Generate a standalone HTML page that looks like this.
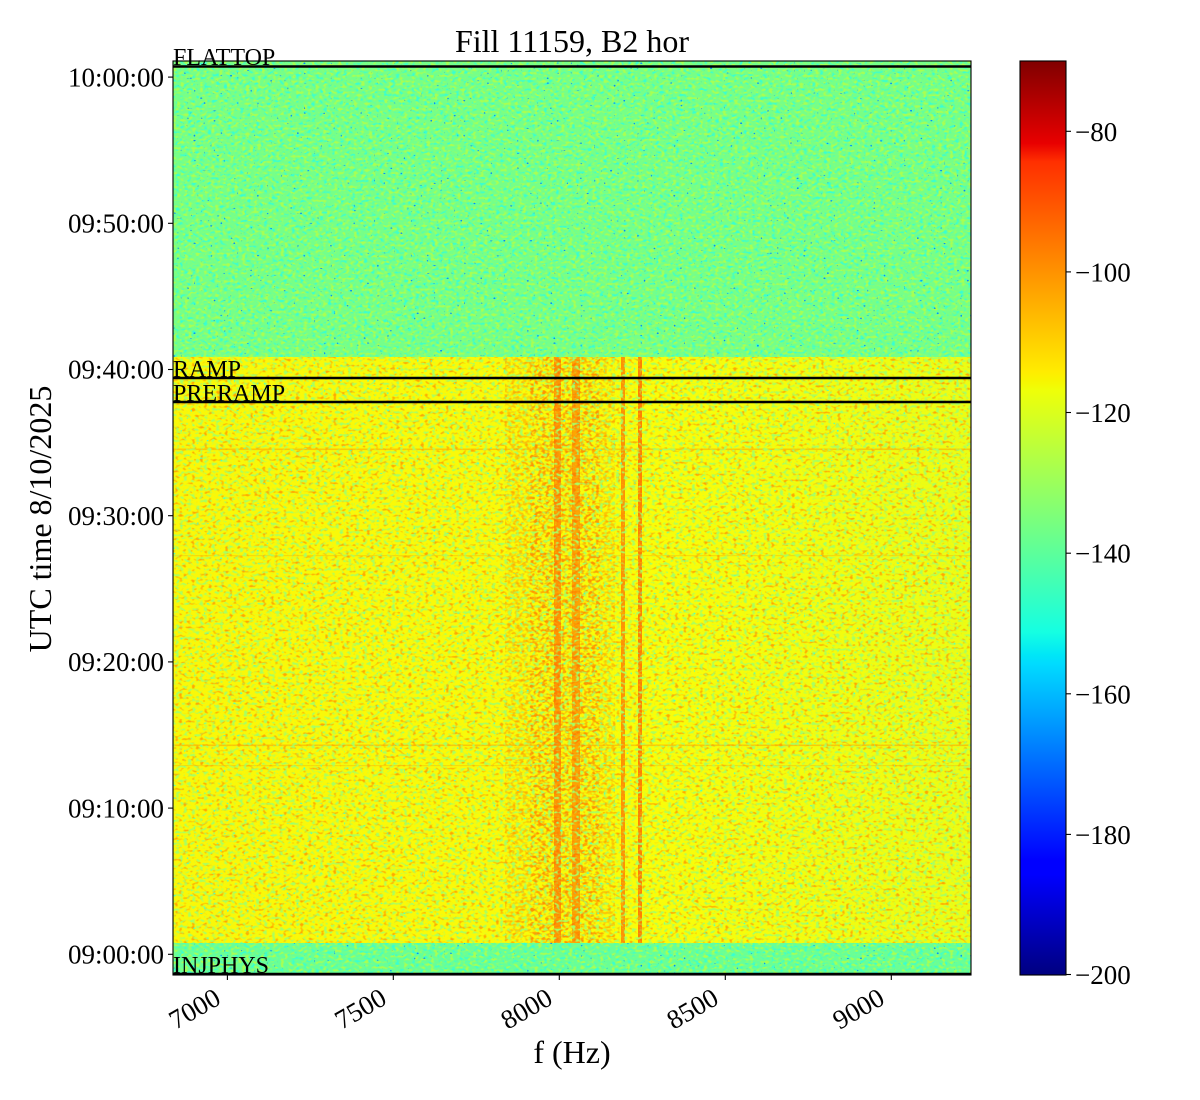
<!DOCTYPE html>
<html>
<head>
<meta charset="utf-8">
<style>
html,body{margin:0;padding:0;background:#fff;}
svg{display:block;}
text{font-family:"Liberation Serif","DejaVu Serif",serif;fill:#000;}
</style>
</head>
<body>
<svg xmlns="http://www.w3.org/2000/svg" width="1200" height="1100" viewBox="0 0 1200 1100">
<defs>
  <linearGradient id="jet" x1="0" y1="1" x2="0" y2="0">
    <stop offset="0" stop-color="rgb(0,0,128)"/>
    <stop offset="0.11" stop-color="rgb(0,0,255)"/>
    <stop offset="0.125" stop-color="rgb(0,0,255)"/>
    <stop offset="0.34" stop-color="rgb(0,219,255)"/>
    <stop offset="0.35" stop-color="rgb(0,230,247)"/>
    <stop offset="0.375" stop-color="rgb(21,255,226)"/>
    <stop offset="0.64" stop-color="rgb(239,255,8)"/>
    <stop offset="0.65" stop-color="rgb(247,245,0)"/>
    <stop offset="0.66" stop-color="rgb(255,236,0)"/>
    <stop offset="0.89" stop-color="rgb(255,47,0)"/>
    <stop offset="0.91" stop-color="rgb(232,0,0)"/>
    <stop offset="1" stop-color="rgb(128,0,0)"/>
  </linearGradient>
  <clipPath id="ax"><rect x="173" y="61" width="798" height="914"/></clipPath>

  <filter id="fOr" x="0" y="0" width="1" height="1" color-interpolation-filters="sRGB">
    <feTurbulence type="fractalNoise" baseFrequency="0.24 0.34" numOctaves="1" seed="3"/>
    <feColorMatrix type="matrix" values="0 0 0 0 1  0 0 0 0 0.66  0 0 0 0 0  0 0 0 5 -2.75"/>
  </filter>
  <filter id="fOr2" x="0" y="0" width="1" height="1" color-interpolation-filters="sRGB">
    <feTurbulence type="fractalNoise" baseFrequency="0.26 0.34" numOctaves="1" seed="41"/>
    <feColorMatrix type="matrix" values="0 0 0 0 1  0 0 0 0 0.58  0 0 0 0 0  0 0 0 5 -2.3"/>
  </filter>
  <filter id="fGr" x="0" y="0" width="1" height="1" color-interpolation-filters="sRGB">
    <feTurbulence type="fractalNoise" baseFrequency="0.25 0.35" numOctaves="1" seed="11"/>
    <feColorMatrix type="matrix" values="0 0 0 0 0.66  0 0 0 0 1  0 0 0 0 0.38  0 0 0 5 -2.55"/>
  </filter>
  <filter id="fCy" x="0" y="0" width="1" height="1" color-interpolation-filters="sRGB">
    <feTurbulence type="fractalNoise" baseFrequency="0.3 0.4" numOctaves="1" seed="23"/>
    <feColorMatrix type="matrix" values="0 0 0 0 0.3  0 0 0 0 1  0 0 0 0 0.78  0 0 0 9 -6.3"/>
  </filter>
  <filter id="gCy" x="0" y="0" width="1" height="1" color-interpolation-filters="sRGB">
    <feTurbulence type="fractalNoise" baseFrequency="0.25 0.35" numOctaves="1" seed="5"/>
    <feColorMatrix type="matrix" values="0 0 0 0 0.22  0 0 0 0 1  0 0 0 0 0.82  0 0 0 5 -2.6"/>
  </filter>
  <filter id="gYg" x="0" y="0" width="1" height="1" color-interpolation-filters="sRGB">
    <feTurbulence type="fractalNoise" baseFrequency="0.26 0.36" numOctaves="1" seed="17"/>
    <feColorMatrix type="matrix" values="0 0 0 0 0.66  0 0 0 0 1  0 0 0 0 0.32  0 0 0 5 -2.5"/>
  </filter>
  <filter id="gBl" x="0" y="0" width="1" height="1" color-interpolation-filters="sRGB">
    <feTurbulence type="fractalNoise" baseFrequency="0.3 0.4" numOctaves="1" seed="31"/>
    <feColorMatrix type="matrix" values="0 0 0 0 0  0 0 0 0 0.55  0 0 0 0 1  0 0 0 14 -10.1"/>
  </filter>

  <linearGradient id="lr" x1="0" y1="0" x2="1" y2="0">
    <stop offset="0" stop-color="rgb(255,190,0)" stop-opacity="0.08"/>
    <stop offset="0.4" stop-color="rgb(255,190,0)" stop-opacity="0.04"/>
    <stop offset="0.6" stop-color="rgb(150,255,90)" stop-opacity="0.0"/>
    <stop offset="1" stop-color="rgb(150,255,90)" stop-opacity="0.14"/>
  </linearGradient>
</defs>

<rect x="0" y="0" width="1200" height="1100" fill="#fff"/>

<g clip-path="url(#ax)">
  <!-- top green region -->
  <rect x="173" y="61" width="798" height="296" fill="rgb(118,255,136)"/>
  <rect x="173" y="61" width="798" height="296" filter="url(#gCy)"/>
  <rect x="173" y="61" width="798" height="296" filter="url(#gYg)"/>
  <rect x="173" y="61" width="798" height="296" filter="url(#gBl)"/>

  <!-- bottom green region -->
  <rect x="173" y="943" width="798" height="32" fill="rgb(105,255,150)"/>
  <rect x="173" y="943" width="798" height="32" filter="url(#gCy)"/>
  <rect x="173" y="943" width="798" height="32" filter="url(#gYg)"/>
  <rect x="173" y="943" width="798" height="32" filter="url(#gBl)"/>

  <!-- yellow region -->
  <rect x="173" y="357" width="798" height="586" fill="rgb(250,253,8)"/>
  <rect x="173" y="357" width="798" height="586" fill="url(#lr)"/>
  <!-- orange textured zone -->
  <rect x="530" y="357" width="70" height="586" filter="url(#fOr2)"/>
  <rect x="505" y="357" width="25" height="586" filter="url(#fOr2)" opacity="0.5"/>
  <rect x="600" y="357" width="15" height="586" filter="url(#fOr2)" opacity="0.5"/>
  <!-- vertical lines -->
  <rect x="554" y="357" width="7" height="586" fill="rgb(255,115,0)" opacity="0.75"/>
  <rect x="572" y="357" width="8" height="586" fill="rgb(255,120,0)" opacity="0.68"/>
  <rect x="621" y="357" width="4" height="586" fill="rgb(255,110,0)" opacity="0.75"/>
  <rect x="638" y="357" width="4" height="586" fill="rgb(255,110,0)" opacity="0.88"/>
  <!-- faint horizontal lines -->
  <rect x="173" y="448.5" width="798" height="1.6" fill="rgb(255,150,0)" opacity="0.5"/>
  <rect x="173" y="555" width="798" height="1.2" fill="rgb(255,150,0)" opacity="0.3"/>
  <rect x="173" y="744.5" width="798" height="1.6" fill="rgb(255,150,0)" opacity="0.5"/>
  <rect x="173" y="765" width="798" height="1.2" fill="rgb(255,150,0)" opacity="0.3"/>
  <!-- speckle -->
  <rect x="173" y="357" width="798" height="586" filter="url(#fOr)"/>
  <rect x="173" y="357" width="798" height="586" filter="url(#fGr)"/>
  <rect x="173" y="357" width="798" height="586" filter="url(#fCy)"/>

  <!-- marker lines -->
  <line x1="173" y1="66.5" x2="971" y2="66.5" stroke="#000" stroke-width="2.5"/>
  <line x1="173" y1="378" x2="971" y2="378" stroke="#000" stroke-width="2.5"/>
  <line x1="173" y1="402" x2="971" y2="402" stroke="#000" stroke-width="2.5"/>
  <line x1="173" y1="974" x2="971" y2="974" stroke="#000" stroke-width="2.5"/>
</g>

<!-- axes frame -->
<rect x="173" y="61" width="798" height="914" fill="none" stroke="#000" stroke-width="1.1"/>

<!-- marker labels -->
<text x="173" y="65" font-size="24">FLATTOP</text>
<text x="173" y="377" font-size="24">RAMP</text>
<text x="173" y="401" font-size="24">PRERAMP</text>
<text x="173" y="973" font-size="24">INJPHYS</text>

<!-- title -->
<text x="572" y="52" font-size="32" text-anchor="middle">Fill 11159, B2 hor</text>

<!-- y ticks -->
<g stroke="#000" stroke-width="1.1">
  <line x1="168" y1="77.1" x2="173" y2="77.1"/>
  <line x1="168" y1="223.3" x2="173" y2="223.3"/>
  <line x1="168" y1="369.5" x2="173" y2="369.5"/>
  <line x1="168" y1="515.7" x2="173" y2="515.7"/>
  <line x1="168" y1="661.9" x2="173" y2="661.9"/>
  <line x1="168" y1="808.1" x2="173" y2="808.1"/>
  <line x1="168" y1="954.3" x2="173" y2="954.3"/>
</g>
<g font-size="27" text-anchor="end">
  <text x="164" y="86.3">10:00:00</text>
  <text x="164" y="232.5">09:50:00</text>
  <text x="164" y="378.7">09:40:00</text>
  <text x="164" y="524.9">09:30:00</text>
  <text x="164" y="671.1">09:20:00</text>
  <text x="164" y="817.3">09:10:00</text>
  <text x="164" y="963.5">09:00:00</text>
</g>
<text transform="translate(51,519) rotate(-90)" font-size="32" text-anchor="middle">UTC time 8/10/2025</text>

<!-- x ticks -->
<g stroke="#000" stroke-width="1.1">
  <line x1="227.4" y1="975" x2="227.4" y2="980"/>
  <line x1="393.3" y1="975" x2="393.3" y2="980"/>
  <line x1="559.3" y1="975" x2="559.3" y2="980"/>
  <line x1="725.3" y1="975" x2="725.3" y2="980"/>
  <line x1="891.3" y1="975" x2="891.3" y2="980"/>
</g>
<g font-size="27" text-anchor="end">
  <text transform="translate(222.4,1003) rotate(-30)">7000</text>
  <text transform="translate(388.3,1003) rotate(-30)">7500</text>
  <text transform="translate(554.3,1003) rotate(-30)">8000</text>
  <text transform="translate(720.3,1003) rotate(-30)">8500</text>
  <text transform="translate(886.3,1003) rotate(-30)">9000</text>
</g>
<text x="572" y="1063" font-size="32" text-anchor="middle">f (Hz)</text>

<!-- colorbar -->
<rect x="1020" y="61" width="46" height="914" fill="url(#jet)"/>
<rect x="1020" y="61" width="46" height="914" fill="none" stroke="#000" stroke-width="1.1"/>
<g stroke="#000" stroke-width="1.1">
  <line x1="1066" y1="131.3" x2="1071" y2="131.3"/>
  <line x1="1066" y1="271.9" x2="1071" y2="271.9"/>
  <line x1="1066" y1="412.5" x2="1071" y2="412.5"/>
  <line x1="1066" y1="553.2" x2="1071" y2="553.2"/>
  <line x1="1066" y1="693.8" x2="1071" y2="693.8"/>
  <line x1="1066" y1="834.4" x2="1071" y2="834.4"/>
  <line x1="1066" y1="974.5" x2="1071" y2="974.5"/>
</g>
<g font-size="27">
  <text x="1075" y="140.8">−80</text>
  <text x="1075" y="281.4">−100</text>
  <text x="1075" y="422">−120</text>
  <text x="1075" y="562.7">−140</text>
  <text x="1075" y="703.3">−160</text>
  <text x="1075" y="843.9">−180</text>
  <text x="1075" y="984">−200</text>
</g>
</svg>
</body>
</html>
